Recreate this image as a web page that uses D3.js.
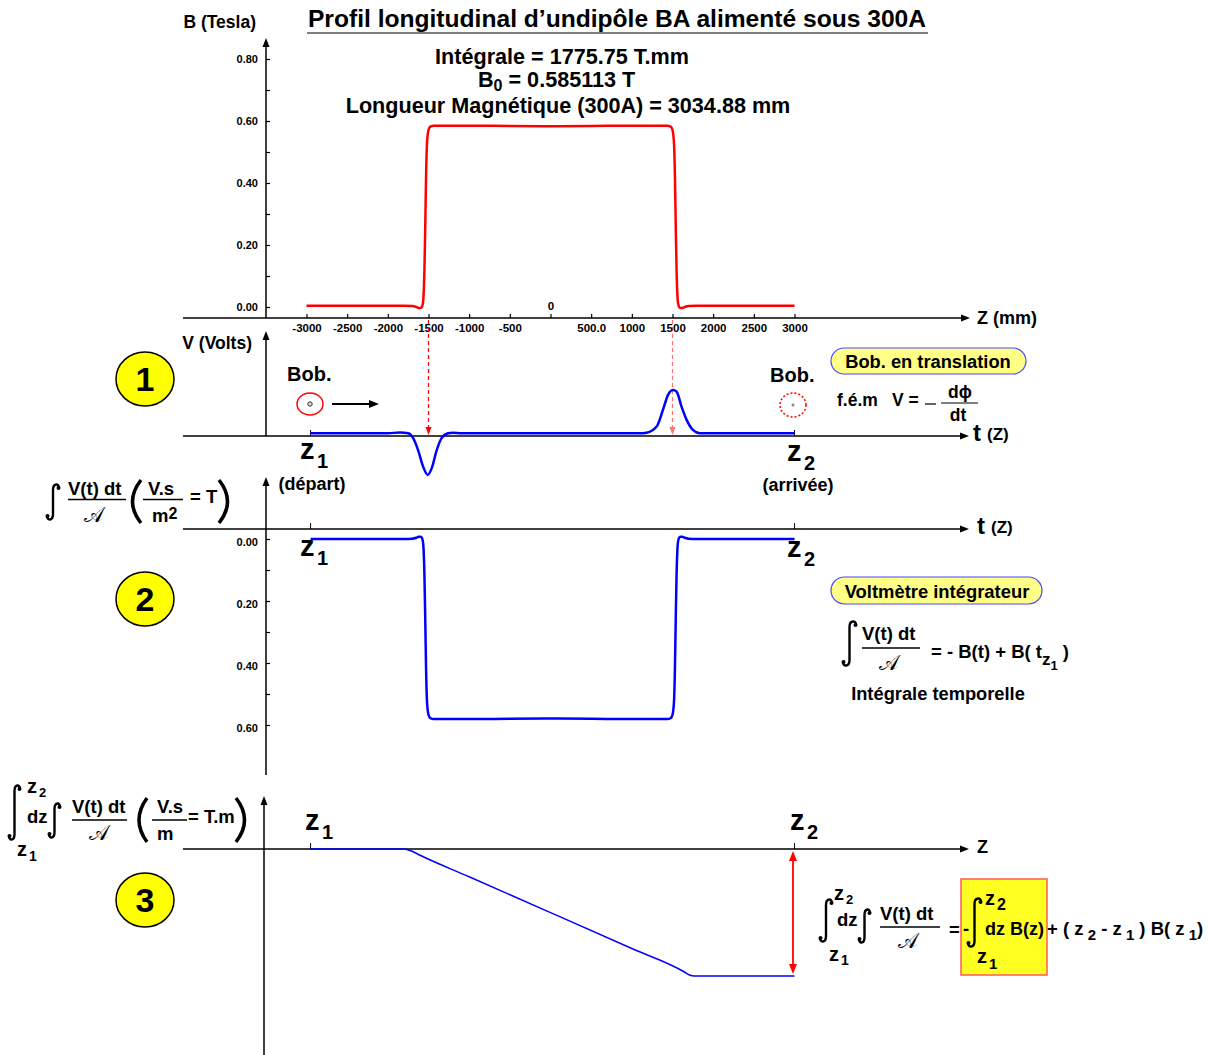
<!DOCTYPE html>
<html><head><meta charset="utf-8">
<script src="https://cdn.jsdelivr.net/npm/d3@7"></script>
<style>
body{margin:0;background:#fff}
svg{font-family:"Liberation Sans",Arial,sans-serif;font-weight:bold}
</style>
</head><body>
<svg id="c" width="1208" height="1055"></svg>
<script>
// ---------- DATA ----------
// Longitudinal field profile B(z)  (z in mm, B in Tesla)
const zB = [-3000,-2950,-2500,-2000,-1800,-1700,-1650,-1620,-1600,-1585,-1570,-1560,-1550,-1540,-1530,-1520,-1505,-1490,-1470,-1440,-1400,-1000,-500,0,500,1000,1400,1440,1470,1490,1505,1520,1530,1540,1550,1560,1570,1585,1600,1620,1650,1700,1800,2000,2500,3000];
const B  = [0.004,0.004,0.004,0.004,0.004,0.003,0.0,-0.003,-0.003,-0.001,0.01,0.04,0.12,0.26,0.42,0.52,0.565,0.578,0.583,0.585,0.585,0.585,0.584,0.583,0.584,0.585,0.585,0.585,0.583,0.578,0.565,0.52,0.42,0.26,0.12,0.04,0.01,-0.001,-0.003,-0.003,0.0,0.003,0.004,0.004,0.004,0.004];
// Induced voltage of the translating coil (arbitrary units)
const zV = [-2950,-2500,-2000,-1850,-1748,-1690,-1628,-1567,-1509,-1460,-1399,-1337,-1260,-1198,-1100,-500,0,500,1000,1100,1182,1305,1383,1444,1506,1551,1612,1674,1751,1837,1960,2500,3000];
const V  = [0,0,0,0.02,0,-0.11,-0.4,-0.79,-0.99,-0.83,-0.4,-0.11,0,0.015,0,0,0,0,0,0,0.015,0.16,0.56,0.91,1.03,0.99,0.63,0.32,0.08,0,0,0,0];
// Double integral (T.mm)
const zI = [-2950,-1800,-1709,-1610,-1000,0,1000,1647,1708,1770,3000];
const I  = [0,0,-28,-84,-388,-889,-1392,-1720,-1762,-1776,-1776];
// ticks
const xTicks = [-3000,-2500,-2000,-1500,-1000,-500,0,500,1000,1500,2000,2500,3000];
const xTickLabels = ["-3000","-2500","-2000","-1500","-1000","-500","0","500.0","1000","1500","2000","2500","3000"];
const yTicksB = [0,0.2,0.4,0.6,0.8];
const yTickLabelsB = ["0.00","0.20","0.40","0.60","0.80"];
const yMinorB = [0.1,0.3,0.5,0.7];
const yTicks2 = [0,0.2,0.4,0.6];
const yTickLabels2 = ["0.00","0.20","0.40","0.60"];
const yMinor2 = [0.1,0.3,0.5];
const z1 = -2950, z2 = 3000;
const markers = [-1500,1500];

// ---------- SETUP ----------
const svg = d3.select("#c");
const RED="#ff0000", BLUE="#0000ff";
const FS=18.5;
const x = d3.scaleLinear().domain([-3000,3000]).range([306.5,794.5]);
const yB = d3.scaleLinear().domain([0,0.8]).range([307,59]);
const yV = d3.scaleLinear().domain([-1,1]).range([475.3,391.3]);
const y2 = d3.scaleLinear().domain([0,0.6]).range([539,725]);
const y3 = d3.scaleLinear().domain([0,-1775.75]).range([849,976]);

function T(xx,yy,s,size,anchor,parent){
  return (parent||svg).append("text").attr("x",xx).attr("y",yy).attr("font-size",size)
    .attr("text-anchor",anchor||"start").text(s);
}
function line(x1,y1,x2,y2,col,w,dash){
  const l=svg.append("line").attr("x1",x1).attr("y1",y1).attr("x2",x2).attr("y2",y2)
    .attr("stroke",col||"#000").attr("stroke-width",w||1.5);
  if(dash) l.attr("stroke-dasharray",dash);
  return l;
}
function arrowHead(xx,yy,dir,col,len,half){
  len=len||9; half=half||3.5; col=col||"#000";
  let p;
  if(dir==="right") p=[[xx,yy],[xx-len,yy-half],[xx-len,yy+half]];
  else if(dir==="up") p=[[xx,yy],[xx-half,yy+len],[xx+half,yy+len]];
  else if(dir==="down") p=[[xx,yy],[xx-half,yy-len],[xx+half,yy-len]];
  svg.append("path").attr("d","M"+p.map(q=>q.join(",")).join("L")+"Z").attr("fill",col);
}
function integ(xx,yA,yBt,w){
  const xm=xx+w/2;
  svg.append("path").attr("d",
    `M${xx+w},${yA+4} C${xx+w},${yA-1} ${xm},${yA-1} ${xm},${yA+6} L${xm},${yBt-6} C${xm},${yBt+1} ${xx},${yBt+1} ${xx},${yBt-4}`)
    .attr("fill","none").attr("stroke","#000").attr("stroke-width",2.4);
  svg.append("circle").attr("cx",xx+w-0.5).attr("cy",yA+4).attr("r",2).attr("fill","#000");
  svg.append("circle").attr("cx",xx+0.5).attr("cy",yBt-4).attr("r",2).attr("fill","#000");
}
function paren(x1,x2,yA,yBt,left){
  const ym=(yA+yBt)/2;
  const d = left ? `M${x2},${yA} Q${x1-4},${ym} ${x2},${yBt}` : `M${x1},${yA} Q${x2+4},${ym} ${x1},${yBt}`;
  svg.append("path").attr("d",d).attr("fill","none").attr("stroke","#000").attr("stroke-width",3.5);
}
function scriptA(cx,yy,size){
  T(cx,yy,"\u{1D49C}",size||21,"middle").attr("font-weight","normal")
   .attr("font-family","'DejaVu Serif','DejaVu Sans','Noto Sans',serif");
}
function zlab(xx,yy,sub,size,subsize,dx,dy){
  size=size||29; subsize=subsize||20;
  T(xx,yy,"z",size);
  T(xx+(dx||17),yy+(dy||9),sub,subsize);
}

// ---------- TITLE ----------
T(617,27,"Profil longitudinal d\u2019undip\u00f4le BA aliment\u00e9 sous 300A",24.6,"middle");
line(307,33,928,33,"#000",1.2);
T(562,64,"Int\u00e9grale = 1775.75 T.mm",21.6,"middle");
{
  const t=svg.append("text").attr("x",478).attr("y",87).attr("font-size",21.6);
  t.append("tspan").text("B");
  t.append("tspan").attr("dy",4).attr("font-size",16).text("0");
  t.append("tspan").attr("dy",-4).text(" = 0.585113 T");
}
T(568,113,"Longueur Magn\u00e9tique (300A) = 3034.88 mm",21.6,"middle");

// ---------- PANEL 0 : B(z) ----------
line(266,318,266,44); arrowHead(266,38,"up");
line(183,318,962,318); arrowHead(970,318,"right");
T(256,28,"B (Tesla)",17.5,"end");
T(977,324,"Z (mm)",18);

const axB = svg.append("g").attr("transform","translate(266,0)")
  .call(d3.axisLeft(yB).tickValues(yTicksB).tickSizeInner(-4).tickSizeOuter(0).tickPadding(8)
    .tickFormat((d,i)=>yTickLabelsB[i]));
axB.select(".domain").remove();
axB.selectAll("text").attr("font-size",11).attr("font-family","Liberation Sans").attr("font-weight","bold");
axB.selectAll("line").attr("stroke-width",1.2);
const axBm = svg.append("g").attr("transform","translate(266,0)")
  .call(d3.axisLeft(yB).tickValues(yMinorB).tickSizeInner(-4).tickSizeOuter(0).tickFormat(""));
axBm.select(".domain").remove(); axBm.selectAll("line").attr("stroke-width",1.2);

const axX = svg.append("g").attr("transform","translate(0,318)")
  .call(d3.axisBottom(x).tickValues(xTicks).tickSizeInner(-4).tickSizeOuter(0).tickPadding(6)
    .tickFormat((d,i)=>xTickLabels[i]));
axX.select(".domain").remove();
axX.selectAll("line").attr("stroke-width",1.2);
axX.selectAll("text").attr("font-size",11.5).attr("font-family","Liberation Sans").attr("font-weight","bold");
axX.selectAll(".tick").filter(d=>d===0).select("text").attr("y",-16);

const lineB = d3.line().x((d,i)=>x(zB[i])).y((d,i)=>yB(B[i])).curve(d3.curveMonotoneX);
svg.append("path").attr("d",lineB(B)).attr("fill","none").attr("stroke",RED).attr("stroke-width",2.5);

markers.forEach((m,k)=>{
  const g=line(x(m),320,x(m),427,RED,1.2,"4,3");
  if(k===1) g.attr("opacity",0.55);
  svg.append("path").attr("d",`M${x(m)},435 L${x(m)-3},427 L${x(m)+3},427 Z`).attr("fill",RED).attr("opacity",k===1?0.55:1);
});

// ---------- PANEL 1 : V ----------
line(266,436,266,338); arrowHead(266,331,"up");
line(183,436,962,436); arrowHead(969,436,"right");
T(252,349,"V (Volts)",17.5,"end");
T(973,441,"t",24); T(987,440,"(Z)",17);
line(x(z1),430,x(z1),436,"#000",1); line(x(z2),430,x(z2),436,"#000",1);
const idxV = zV.map((d,i)=>i).filter(i=>zV[i]>=z1 && zV[i]<=z2);
const lineV = d3.line().x(i=>x(zV[i])).y(i=>yV(V[i])).curve(d3.curveMonotoneX);
svg.append("path").attr("d",lineV(idxV)).attr("fill","none").attr("stroke",BLUE).attr("stroke-width",2.5);

svg.append("ellipse").attr("cx",145).attr("cy",379).attr("rx",29).attr("ry",27).attr("fill","#ffff00").attr("stroke","#000").attr("stroke-width",1.5);
T(145,391,"1",34,"middle");

T(287,381,"Bob.",20); T(770,382,"Bob.",20);
svg.append("ellipse").attr("cx",310).attr("cy",404).attr("rx",13).attr("ry",11).attr("fill","none").attr("stroke",RED).attr("stroke-width",1.5);
svg.append("circle").attr("cx",310).attr("cy",404).attr("r",2.2).attr("fill","#ddd").attr("stroke","#333").attr("stroke-width",1);
line(332,404,370,404,"#000",2); arrowHead(379,404,"right","#000",10,4);
svg.append("ellipse").attr("cx",793).attr("cy",405).attr("rx",13).attr("ry",12).attr("fill","none").attr("stroke",RED).attr("stroke-width",1.5).attr("stroke-dasharray","2,2");
svg.append("circle").attr("cx",793).attr("cy",405).attr("r",1.5).attr("fill","#888");

zlab(300,459,"1"); T(312,490,"(d\u00e9part)",18,"middle");
zlab(787,461,"2"); T(798,491,"(arriv\u00e9e)",18,"middle");

svg.append("rect").attr("x",831).attr("y",348).attr("width",195).attr("height",26).attr("rx",13)
  .attr("fill","#ffff88").attr("stroke","#4a4aff").attr("stroke-width",1.2);
T(928,368,"Bob. en translation",18.3,"middle");
T(837,406,"f.\u00e9.m",17.5); T(892,406,"V =",17.5);
line(925,404,936,404,"#000",1.2);
line(941,403,978,403,"#000",1.2);
T(960,398,"d\u03d5",17.5,"middle"); T(958,421,"dt",17.5,"middle");

// ---------- PANEL 2 : integral of V ----------
line(266,775,266,484); arrowHead(266,477,"up");
line(183,529,962,529); arrowHead(969,529,"right");
T(977,534,"t",24); T(991,533,"(Z)",17);
line(x(z1),523,x(z1),529,"#000",1); line(x(z2),523,x(z2),529,"#000",1);
const ax2 = svg.append("g").attr("transform","translate(266,0)")
  .call(d3.axisLeft(y2).tickValues(yTicks2).tickSizeInner(-4).tickSizeOuter(0).tickPadding(8)
    .tickFormat((d,i)=>yTickLabels2[i]));
ax2.select(".domain").remove();
ax2.selectAll("text").attr("font-size",11).attr("font-family","Liberation Sans").attr("font-weight","bold").attr("dy","0.6em");
ax2.selectAll("line").attr("stroke-width",1.2);
const ax2m = svg.append("g").attr("transform","translate(266,0)")
  .call(d3.axisLeft(y2).tickValues(yMinor2).tickSizeInner(-4).tickSizeOuter(0).tickFormat(""));
ax2m.select(".domain").remove(); ax2m.selectAll("line").attr("stroke-width",1.2);

const Bz1 = B[zB.indexOf(z1)];
const idx2 = zB.map((d,i)=>i).filter(i=>zB[i]>=z1 && zB[i]<=z2);
const line2 = d3.line().x(i=>x(zB[i])).y(i=>y2(B[i]-Bz1)).curve(d3.curveMonotoneX);
svg.append("path").attr("d",line2(idx2)).attr("fill","none").attr("stroke",BLUE).attr("stroke-width",2.5);

svg.append("ellipse").attr("cx",145).attr("cy",599).attr("rx",29).attr("ry",27).attr("fill","#ffff00").attr("stroke","#000").attr("stroke-width",1.5);
T(145,611,"2",34,"middle");
zlab(300,556,"1"); zlab(787,557,"2");

// left label panel 2
integ(47,484,520,12);
T(68,495,"V(t) dt",FS); line(68,499.5,126,499.5,"#000",1.5); scriptA(94,522);
paren(128,141,480,523,true);
T(148,495,"V.s",FS); line(143,499.5,183,499.5,"#000",1.5);
{ const t=T(152,522,"m",FS); t.append("tspan").attr("dy",-3).attr("font-size",16).text("2"); }
T(190,503,"= T",FS);
paren(219,232,480,523,false);

// right box panel 2
svg.append("rect").attr("x",831).attr("y",577).attr("width",211).attr("height",27).attr("rx",13.5)
  .attr("fill","#ffff88").attr("stroke","#4a4aff").attr("stroke-width",1.2);
T(937,598,"Voltm\u00e8tre int\u00e9grateur",18.4,"middle");
integ(843,621,666,13);
T(862,640,"V(t) dt",FS); line(862,648,920,648,"#000",1.5); scriptA(889,670);
{
  const t=T(931,658,"= - B(t) + B( t",FS);
  t.append("tspan").attr("dy",7).attr("font-size",17).text("z");
  t.append("tspan").attr("dy",5).attr("font-size",13).text("1");
  t.append("tspan").attr("dy",-12).text(" )");
}
T(938,700,"Int\u00e9grale temporelle",18.3,"middle");

// ---------- PANEL 3 : double integral ----------
line(264,1055,264,803); arrowHead(264,796,"up");
line(183,849,962,849); arrowHead(969,849,"right");
T(977,853,"Z",18);
line(x(z1),843,x(z1),849,"#000",1); line(x(z2),843,x(z2),849,"#000",1);
const idxI = zI.map((d,i)=>i).filter(i=>zI[i]>=z1 && zI[i]<=z2);
const lineI = d3.line().x(i=>x(zI[i])).y(i=>y3(I[i])).curve(d3.curveMonotoneX);
svg.append("path").attr("d",lineI(idxI)).attr("fill","none").attr("stroke",BLUE).attr("stroke-width",1.5);
line(793,860,793,965,RED,1.8);
svg.append("path").attr("d",`M793,851 L789,861 L797,861 Z`).attr("fill",RED);
svg.append("path").attr("d",`M793,974 L789,964 L797,964 Z`).attr("fill",RED);

svg.append("ellipse").attr("cx",145).attr("cy",900).attr("rx",29).attr("ry",27).attr("fill","#ffff00").attr("stroke","#000").attr("stroke-width",1.5);
T(145,912,"3",34,"middle");
zlab(305,830,"1"); zlab(790,830,"2");

// left label panel 3
integ(9,785,840,11);
T(27,793,"z",20); T(39,797,"2",13);
T(27,823,"dz",FS);
T(17,856,"z",20); T(29,861,"1",14);
integ(49,803,838,11);
T(72,813,"V(t) dt",FS); line(72,820,127,820,"#000",1.5); scriptA(99,840);
paren(135,147,798,842,true);
T(157,813,"V.s",FS); line(152,820,187,820,"#000",1.5);
T(157,840,"m",FS);
T(188,823,"= T.m",FS);
paren(236,249,798,842,false);

// right formula panel 3
integ(820,899,942,12);
T(834,900,"z",20); T(846,904,"2",13);
T(837,926,"dz",FS);
T(829,961,"z",20); T(841,965,"1",14);
integ(859,909,943,11);
T(880,920,"V(t) dt",FS); line(880,927,940,927,"#000",1.5); scriptA(908,948);
T(949,936,"=",FS);
svg.append("rect").attr("x",961).attr("y",879).attr("width",86).attr("height",96)
  .attr("fill","#ffff22").attr("stroke","#ff5a5a").attr("stroke-width",1.5);
T(963,935,"-",FS);
integ(968,898,947,13);
T(985,905,"z",20); T(997,910,"2",16);
T(985,935,"dz B(z)",18);
T(977,963,"z",20); T(989,969,"1",15);
{
  const t=T(1047,935,"+ ( z",FS);
  t.append("tspan").attr("dy",5).attr("font-size",15).text(" 2");
  t.append("tspan").attr("dy",-5).text(" -  z");
  t.append("tspan").attr("dy",5).attr("font-size",15).text(" 1");
  t.append("tspan").attr("dy",-5).text(" ) B( z");
  t.append("tspan").attr("dy",5).attr("font-size",15).text(" 1");
  t.append("tspan").attr("dy",-5).text(")");
}
</script>
</body></html>
